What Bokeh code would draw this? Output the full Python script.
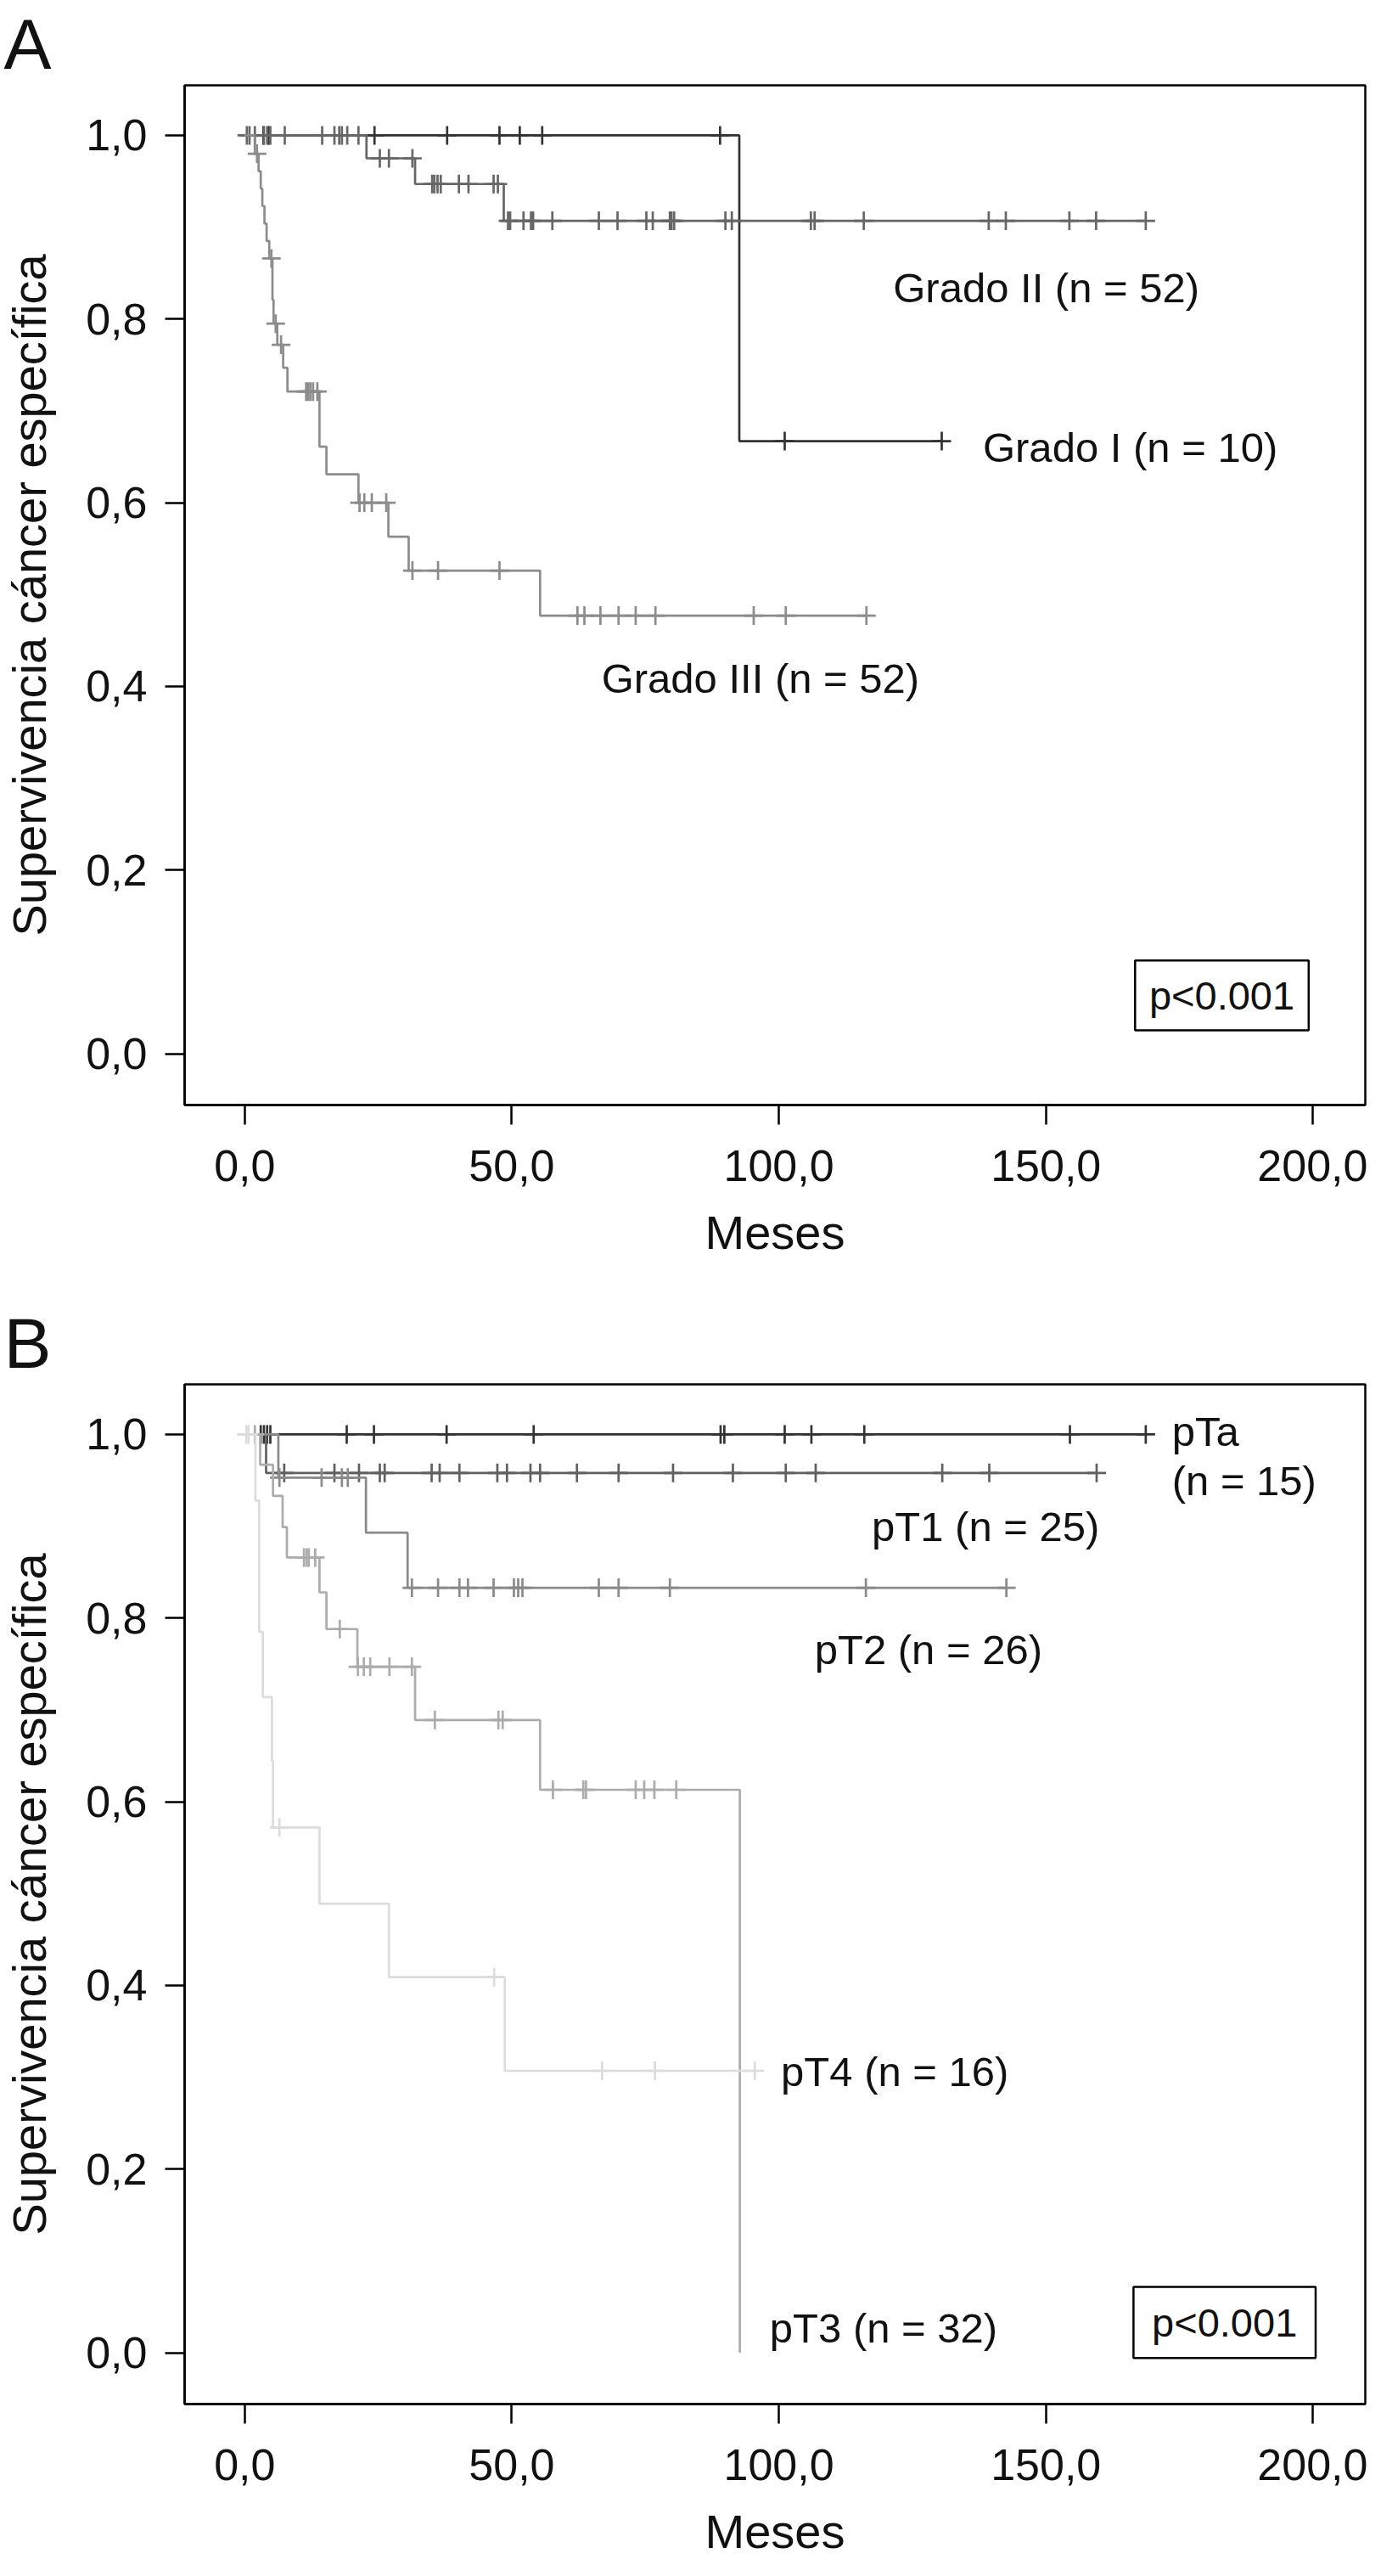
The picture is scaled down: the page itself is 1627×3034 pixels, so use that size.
from bokeh.plotting import figure
from bokeh.layouts import column
from bokeh.models import Label, FixedTicker, Range1d, CustomJSTickFormatter
from bokeh.embed import file_html
from bokeh.resources import INLINE

FONT = "Liberation Sans"

# ---------------- Panel A data (Meses, supervivencia) ----------------
g1_event_t = [92.6]
g1_event_s = [0.667]
g1_cens = [3.5, 4.5, 24.3, 37.9, 47.7, 51.5, 55.7, 89.0, 101.1, 130.5]

g2_event_t = [22.8, 31.9, 48.5]
g2_event_s = [0.975, 0.947, 0.907]
g2_cens = [0.4, 0.9, 1.9, 3.6, 4.2, 4.8, 7.5, 14.5, 16.8, 17.7, 18.2, 19.2, 21.3,
           25.3, 27.0, 31.4,
           35.1, 35.5, 36.1, 36.7, 40.1, 41.9, 46.6, 47.4,
           49.3, 49.7, 52.2, 53.6, 54.0, 57.6, 66.3, 69.8, 75.2, 76.4, 79.6, 79.9, 80.4,
           90.0, 91.2, 106.0, 106.7, 115.9, 139.3, 142.5, 154.4, 159.4, 168.7]

g3_event_t = [1.9, 2.6, 3.0, 3.3, 3.7, 4.1, 4.6, 5.2, 5.4, 6.1, 7.2, 8.0,
              14.0, 15.3, 21.3, 26.9, 30.7, 55.3]
g3_event_s = [0.980, 0.961, 0.942, 0.923, 0.904, 0.885, 0.866, 0.821, 0.795, 0.772,
              0.747, 0.721, 0.661, 0.631, 0.600, 0.563, 0.526, 0.477]
g3_cens = [2.3, 5.0, 5.8, 6.8, 11.5, 11.9, 12.3, 12.8, 13.6, 21.5, 22.4, 23.8, 26.5,
           31.4, 36.2, 47.7, 62.3, 63.6, 66.6, 70.0, 73.2, 76.9, 95.3, 101.3, 116.4]

# ---------------- Panel B data ----------------
pta_event_t = []
pta_event_s = []
pta_cens = [3.0, 3.6, 4.2, 4.8, 19.1, 24.2, 37.8, 54.1, 89.1, 89.8, 101.1, 106.1,
            116.0, 154.5, 168.7]

pt1_event_t = [4.0]
pt1_event_s = [0.958]
pt1_cens = [7.4, 16.8, 21.4, 25.3, 26.2, 35.0, 36.5, 40.2, 47.3, 49.1, 53.5, 55.3,
            62.2, 70.0, 80.2, 91.4, 101.3, 106.9, 130.6, 139.4, 159.5]

pt2_event_t = [6.3, 22.7, 30.5]
pt2_event_s = [0.953, 0.893, 0.833]
pt2_cens = [6.5, 14.4, 18.2, 19.3, 31.3, 36.2, 40.2, 41.8, 46.6, 50.4, 51.2, 52.0,
            66.3, 70.0, 79.6, 116.3, 142.6]

pt3_event_t = [2.9, 5.3, 7.1, 7.9, 14.0, 15.3, 21.1, 31.9, 55.3, 92.7]
pt3_event_s = [0.967, 0.933, 0.899, 0.866, 0.828, 0.788, 0.747, 0.689, 0.613, 0.0]
pt3_cens = [1.9, 11.1, 11.6, 12.0, 13.2, 17.8, 21.2, 22.3, 23.5, 27.1, 31.3, 35.6,
            47.5, 48.3, 57.7, 63.4, 63.9, 73.2, 74.8, 76.7, 80.8]

pt4_event_t = [2.0, 2.7, 3.4, 5.1, 5.3, 14.0, 27.0, 48.7]
pt4_event_s = [0.928, 0.785, 0.714, 0.644, 0.572, 0.489, 0.409, 0.307]
pt4_cens = [0.3, 0.7, 6.5, 46.7, 66.9, 76.8, 95.5]

x_ticks = [0, 50, 100, 150, 200]
y_ticks = [0.0, 0.2, 0.4, 0.6, 0.8, 1.0]

series_a = [
    ("Grado I", g1_event_t, g1_event_s, g1_cens, "#333333"),
    ("Grado II", g2_event_t, g2_event_s, g2_cens, "#666666"),
    ("Grado III", g3_event_t, g3_event_s, g3_cens, "#8c8c8c"),
]
labels_a = [
    ("Grado II (n = 52)", 121.4, 0.834),
    ("Grado I (n = 10)", 138.2, 0.660),
    ("Grado III (n = 52)", 66.8, 0.409),
]
series_b = [
    ("pTa", pta_event_t, pta_event_s, pta_cens, "#333333"),
    ("pT1", pt1_event_t, pt1_event_s, pt1_cens, "#606060"),
    ("pT2", pt2_event_t, pt2_event_s, pt2_cens, "#8a8a8a"),
    ("pT3", pt3_event_t, pt3_event_s, pt3_cens, "#acacac"),
    ("pT4", pt4_event_t, pt4_event_s, pt4_cens, "#dcdcdc"),
]
labels_b = [
    ("pTa", 173.6, 1.003),
    ("(n = 15)", 173.6, 0.950),
    ("pT1 (n = 25)", 117.4, 0.900),
    ("pT2 (n = 26)", 106.7, 0.766),
    ("pT4 (n = 16)", 100.4, 0.306),
    ("pT3 (n = 32)", 98.3, 0.027),
]

X0, X1 = -11.25, 209.8
Y0, Y1 = -0.0559, 1.0545


def surv_at(t, ev_t, ev_s):
    s = 1.0
    for et, es in zip(ev_t, ev_s):
        if et <= t:
            s = es
    return s


def make_fig(height, mb_bottom, series, labels, letter, box):
    p = figure(width=1611, height=height,
               x_range=Range1d(X0, X1), y_range=Range1d(Y0, Y1),
               output_backend="svg", toolbar_location=None,
               min_border_left=213, min_border_right=3, min_border_top=98,
               min_border_bottom=mb_bottom)
    p.grid.visible = False
    p.background_fill_color = "white"
    p.border_fill_color = "white"
    p.outline_line_color = "black"
    p.outline_line_width = 2.5
    p.outline_line_alpha = 1.0

    # panel letter as the figure title
    p.title.text = letter
    p.title.text_font = FONT
    p.title.text_font_size = "84px"
    p.title.text_font_style = "normal"
    p.title.text_color = "#111111"
    p.title.align = "left"
    p.title.offset = -213
    p.title.standoff = 4

    fmt = CustomJSTickFormatter(code="return tick.toFixed(1).replace('.', ',');")
    for ax, ticks in ((p.xaxis[0], x_ticks), (p.yaxis[0], y_ticks)):
        ax.ticker = FixedTicker(ticks=ticks)
        ax.formatter = fmt
        ax.major_tick_in = 0
        ax.major_tick_out = 23
        ax.major_tick_line_width = 2.5
        ax.major_tick_line_color = "black"
        ax.minor_tick_line_color = None
        ax.axis_line_color = "black"
        ax.axis_line_width = 2.5
        ax.major_label_text_font = FONT
        ax.major_label_text_font_size = "52px"
        ax.major_label_text_color = "#111111"
        ax.axis_label_text_font = FONT
        ax.axis_label_text_font_size = "56px"
        ax.axis_label_text_font_style = "normal"
        ax.axis_label_text_color = "#111111"
    p.xaxis.axis_label = "Meses"
    p.xaxis.major_label_standoff = 30
    p.xaxis.axis_label_standoff = 26
    p.yaxis.axis_label = "Supervivencia cáncer específica"
    p.yaxis.major_label_standoff = 21
    p.yaxis.axis_label_standoff = 32

    for name, ev_t, ev_s, cens, color in series:
        end = max(list(cens) + list(ev_t))
        xs = [0.0] + list(ev_t) + [end]
        ys = [1.0] + list(ev_s) + [ev_s[-1] if ev_s else 1.0]
        p.step(xs, ys, mode="after", line_color=color, line_width=2.7)
        cy = [surv_at(t, ev_t, ev_s) for t in cens]
        p.scatter(cens, cy, marker="cross", size=22, line_color=color, line_width=2.7)

    for txt, x, y in labels:
        p.add_layout(Label(x=x, y=y, text=txt, text_font=FONT, text_font_size="49px",
                           text_baseline="middle", text_align="left",
                           text_color="#111111"))

    bl, br, bb, bt = box
    p.quad(left=[bl], right=[br], bottom=[bb], top=[bt], fill_color="white",
           line_color="black", line_width=2.5)
    p.add_layout(Label(x=(bl + br) / 2, y=(bb + bt) / 2, text="p<0.001", text_font=FONT,
                       text_font_size="47px", text_baseline="middle", text_align="center",
                       text_color="#111111"))
    return p


pa = make_fig(1530, 229, series_a, labels_a, "A", (166.7, 199.2, 0.0254, 0.1014))
pb = make_fig(1488, 187, series_b, labels_b, "B", (166.4, 200.5, -0.0057, 0.0718))

layout = column(pa, pb, spacing=0)
open("out.html", "w").write(file_html(layout, INLINE))
